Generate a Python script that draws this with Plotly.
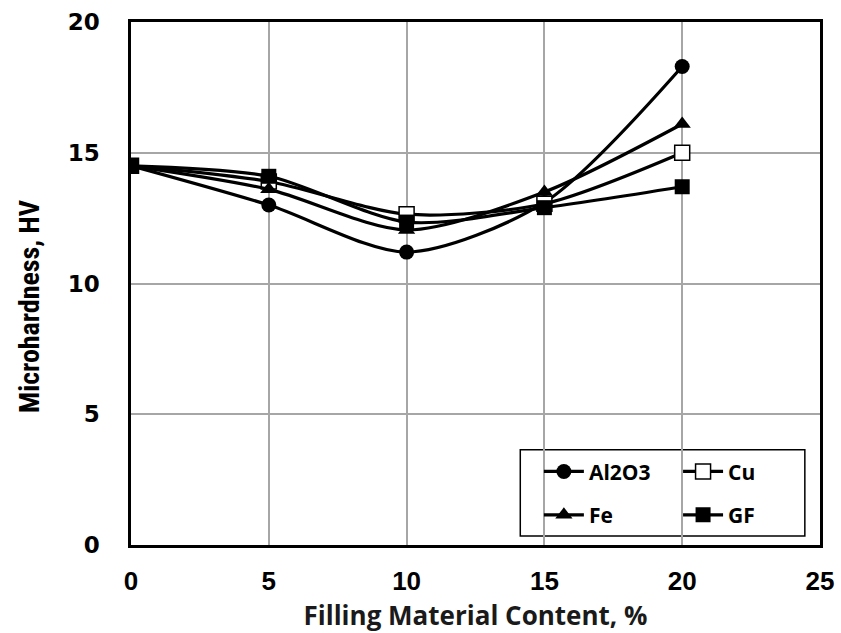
import plotly.graph_objects as go

content = [0, 5, 10, 15, 20]
al2o3 = [14.5, 13.0, 11.2, 13.1, 18.3]
cu = [14.5, 13.9, 12.65, 13.05, 15.0]
fe = [14.5, 13.6, 12.05, 13.5, 16.1]
gf = [14.5, 14.1, 12.35, 12.9, 13.7]

x_ticks = [0, 5, 10, 15, 20, 25]
y_ticks = [0, 5, 10, 15, 20]

series = [
    ("Al2O3", al2o3, dict(symbol="circle", size=15, color="black"), "legend"),
    ("Cu", cu, dict(symbol="square", size=15, color="white", line=dict(color="black", width=1.5)), "legend2"),
    ("Fe", fe, dict(symbol="triangle-up", size=15, color="black"), "legend3"),
    ("GF", gf, dict(symbol="square", size=15, color="black"), "legend4"),
]

fig = go.Figure()
for name, vals, mk, lg in series:
    fig.add_trace(go.Scatter(
        x=content, y=vals, name=name, mode="lines+markers",
        line=dict(color="black", width=3.2, shape="spline", smoothing=0.8),
        marker=mk, legend=lg, showlegend=True,
    ))

def lg(x, y):
    return dict(
        x=x, y=y, xref="paper", yref="paper", bgcolor="rgba(0,0,0,0)",
        font=dict(family="Open Sans", size=21, color="black", weight="bold"),
        itemwidth=40, xanchor="left", yanchor="middle", visible=True,
    )

fig.update_layout(
    width=841, height=633, showlegend=True,
    margin=dict(l=131, r=21, t=22, b=88, autoexpand=False),
    paper_bgcolor="white", plot_bgcolor="white",
    legend=lg(0.592, 0.140),
    legend2=lg(0.794, 0.140),
    legend3=lg(0.592, 0.057),
    legend4=lg(0.794, 0.057),
    shapes=[dict(type="rect", xref="paper", yref="paper",
                 x0=0.565, x1=0.978, y0=0.017, y1=0.182,
                 line=dict(color="black", width=1.5), fillcolor="white",
                 layer="between")],
    annotations=[dict(text="Microhardness, HV", textangle=-90, showarrow=False,
                      xref="paper", yref="paper", x=-0.148, y=0.455,
                      xanchor="center", yanchor="middle",
                      font=dict(family="Roboto Condensed", size=28, color="black", weight="bold"))],
    xaxis=dict(
        range=[0, 25], tickvals=x_ticks, showgrid=True, gridcolor="#a6a6a6", gridwidth=1.5,
        showline=True, linecolor="black", linewidth=2.5, mirror=True,
        ticks="", zeroline=False, ticklabelstandoff=11,
        tickfont=dict(family="Liberation Sans", size=26, color="black", weight="bold"),
        title=dict(text="Filling Material Content, %", standoff=13,
                   font=dict(family="Open Sans", size=26, color="#1a1a1a", weight="bold")),
    ),
    yaxis=dict(
        range=[0, 20], tickvals=y_ticks, showgrid=True, gridcolor="#a6a6a6", gridwidth=1.5,
        showline=True, linecolor="black", linewidth=2.5, mirror=True,
        ticks="outside", ticklen=24, tickcolor="rgba(0,0,0,0)", zeroline=False,
        tickfont=dict(family="DejaVu Sans", size=23, color="black", weight="bold"),
    ),
)

fig.write_html("out.html")
